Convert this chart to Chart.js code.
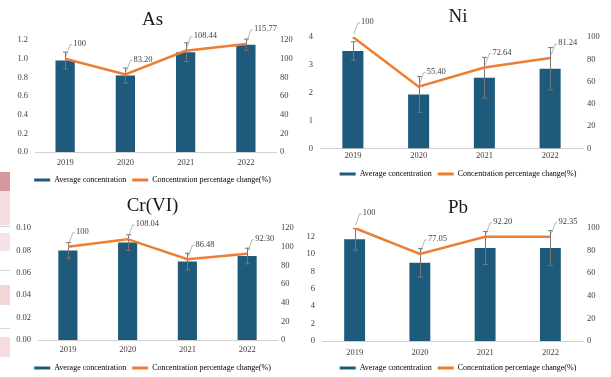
<!DOCTYPE html>
<html>
<head>
<meta charset="utf-8">
<script src="https://cdn.jsdelivr.net/npm/chart.js@4.4.0/dist/chart.umd.min.js"></script>
<style>
  html, body { margin: 0; padding: 0; background: #fff; }
  #wrap { position: relative; width: 611px; height: 377px; overflow: hidden; background: #fff; }
  #wrap canvas { position: absolute; }
  .edge { position: absolute; left: 0; width: 10px; }
</style>
</head>
<body>
<div id="wrap">
  <!-- bits of the neighbouring page visible at the left edge -->
  <div class="edge" style="top:172px;height:19px;background:#d8979d"></div>
  <div class="edge" style="top:191px;height:34px;background:#f4dde0"></div>
  <div class="edge" style="top:226px;height:1px;background:#cfcfcf"></div>
  <div class="edge" style="top:233px;height:18px;background:#f6e2e4"></div>
  <div class="edge" style="top:270px;height:1px;background:#d6d6d6"></div>
  <div class="edge" style="top:285px;height:20px;background:#f2d6d9"></div>
  <div class="edge" style="top:328px;height:1px;background:#d6d6d6"></div>
  <div class="edge" style="top:337px;height:20px;background:#f4dcdf"></div>

  <canvas id="cAs" width="305" height="190" style="left:0;top:0;width:305px;height:190px"></canvas>
  <canvas id="cNi" width="306" height="190" style="left:305px;top:0;width:306px;height:190px"></canvas>
  <canvas id="cCr" width="305" height="187" style="left:0;top:190px;width:305px;height:187px"></canvas>
  <canvas id="cPb" width="306" height="187" style="left:305px;top:190px;width:306px;height:187px"></canvas>
</div>

<script>
// ── data ──────────────────────────────────────────────
const years = ['2019', '2020', '2021', '2022'];

const asMean = [0.98, 0.82, 1.07, 1.15];
const asErr  = [0.09, 0.08, 0.10, 0.06];
const asPct  = [100, 83.20, 108.44, 115.77];

const niMean = [3.50, 1.94, 2.54, 2.86];
const niErr  = [0.33, 0.64, 0.73, 0.76];
const niPct  = [100, 55.40, 72.64, 81.24];

const crMean = [0.080, 0.087, 0.070, 0.075];
const crErr  = [0.007, 0.007, 0.0075, 0.007];
const crPct  = [100, 108.04, 86.48, 92.30];

const pbMean = [11.7, 9.0, 10.7, 10.7];
const pbErr  = [1.25, 1.65, 1.9, 2.0];
const pbPct  = [100, 77.05, 92.20, 92.35];

const barLabel  = 'Average concentration';
const lineLabel = 'Concentration percentage change(%)';

// ── look ──────────────────────────────────────────────
const BAR_COLOR  = '#1d5a7b';
const LINE_COLOR = '#ed7d31';
const TEXT_COLOR = '#404040';
const FONT = 'Liberation Serif';

Chart.defaults.font.family = FONT;
Chart.defaults.color = TEXT_COLOR;

// error bars, drawn right after the bars (so the line sits on top)
const errorBars = {
  id: 'errorBars',
  afterDatasetDraw(chart, args) {
    if (args.index !== 0) return;
    const ds = chart.data.datasets[0];
    const ys = chart.scales.y;
    const ctx = chart.ctx;
    ctx.save();
    ctx.strokeStyle = '#767676';
    ctx.lineWidth = 1;
    args.meta.data.forEach((bar, i) => {
      const v = ds.data[i];
      const top = ys.getPixelForValue(v + ds.errors[i]);
      const bot = ys.getPixelForValue(v - ds.errors[i]);
      const x = Math.round(bar.x) + 0.5;
      ctx.beginPath();
      ctx.moveTo(x, top); ctx.lineTo(x, bot);
      ctx.moveTo(x - 2.5, top); ctx.lineTo(x + 2.5, top);
      ctx.moveTo(x - 2.5, bot); ctx.lineTo(x + 2.5, bot);
      ctx.stroke();
    });
    ctx.restore();
  }
};

// percentage labels with a short leader line (Excel style)
const pctLabels = {
  id: 'pctLabels',
  afterDatasetsDraw(chart) {
    const ds = chart.data.datasets[1];
    const meta = chart.getDatasetMeta(1);
    const ctx = chart.ctx;
    ctx.save();
    ctx.font = '8.5px "' + FONT + '"';
    ctx.fillStyle = TEXT_COLOR;
    ctx.strokeStyle = '#a6a6a6';
    ctx.lineWidth = 0.8;
    ctx.textBaseline = 'middle';
    meta.data.forEach((pt, i) => {
      const v = ds.data[i];
      const txt = v === 100 ? '100' : v.toFixed(2);
      ctx.beginPath();
      ctx.moveTo(pt.x + 1, pt.y - 3);
      ctx.lineTo(pt.x + 5, pt.y - 14);
      ctx.lineTo(pt.x + 7, pt.y - 14);
      ctx.stroke();
      ctx.fillText(txt, pt.x + 8, pt.y - 15);
    });
    ctx.restore();
  }
};

function makePanel(id, title, mean, err, pct, axis, lay) {
  const tickFont = { family: FONT, size: 8.5 };
  return new Chart(document.getElementById(id), {
    type: 'bar',
    data: {
      labels: years,
      datasets: [
        {
          type: 'bar',
          label: barLabel,
          data: mean,
          errors: err,
          backgroundColor: BAR_COLOR,
          categoryPercentage: 1,
          barPercentage: 0.32,
          yAxisID: 'y',
          order: 1
        },
        {
          type: 'line',
          label: lineLabel,
          data: pct,
          borderColor: LINE_COLOR,
          backgroundColor: LINE_COLOR,
          borderWidth: 2.5,
          pointRadius: 0,
          tension: 0,
          yAxisID: 'y1',
          order: 0
        }
      ]
    },
    options: {
      responsive: false,
      animation: false,
      layout: { padding: { top: 0, left: 0, right: 0, bottom: lay.padBottom } },
      plugins: {
        title: {
          display: true,
          text: title,
          color: '#1a1a1a',
          font: { family: FONT, size: 19, weight: 'normal' },
          padding: { top: lay.titleTop, bottom: lay.titleBottom }
        },
        legend: {
          position: 'bottom',
          labels: {
            boxWidth: 16,
            boxHeight: 3,
            padding: 6,
            color: TEXT_COLOR,
            font: { family: FONT, size: 8 },
            generateLabels: (chart) => chart.data.datasets.map((d, i) => ({
              text: d.label,
              fillStyle: i === 0 ? BAR_COLOR : LINE_COLOR,
              strokeStyle: i === 0 ? BAR_COLOR : LINE_COLOR,
              lineWidth: 0,
              hidden: false,
              datasetIndex: i
            }))
          }
        },
        tooltip: { enabled: false }
      },
      scales: {
        x: {
          grid: { display: false, drawTicks: false },
          border: { display: true, color: '#d0d0d0' },
          ticks: { padding: lay.xPad, font: tickFont, color: TEXT_COLOR },
          afterFit: (s) => { s.height = lay.xH; }
        },
        y: {
          position: 'left',
          min: 0,
          max: axis.max,
          grid: { display: false, drawTicks: false },
          border: { display: false },
          ticks: {
            padding: 7,
            font: tickFont,
            color: TEXT_COLOR,
            callback: (v) => v.toFixed(axis.dec)
          },
          // labels every `step` up to labelMax (Pb's axis runs past its last label)
          afterBuildTicks: (s) => {
            const n = Math.round(axis.labelMax / axis.step);
            s.ticks = Array.from({ length: n + 1 }, (_, k) => ({ value: +(k * axis.step).toFixed(6) }));
          },
          afterFit: (s) => { s.width = lay.left; }
        },
        y1: {
          position: 'right',
          min: 0,
          max: axis.max1,
          grid: { display: false, drawTicks: false },
          border: { display: false },
          ticks: { stepSize: 20, padding: 4, font: tickFont, color: TEXT_COLOR },
          afterFit: (s) => { s.width = lay.right; }
        }
      }
    },
    plugins: [errorBars, pctLabels]
  });
}

makePanel('cAs', 'As', asMean, asErr, asPct,
  { max: 1.2, step: 0.2, dec: 1, labelMax: 1.2, max1: 120 },
  { left: 35, right: 29, titleTop: 8.6, titleBottom: 8.6, xPad: 6, xH: 18, padBottom: -4 });

makePanel('cNi', 'Ni', niMean, niErr, niPct,
  { max: 4, step: 1, dec: 0, labelMax: 4, max1: 100 },
  { left: 15, right: 28, titleTop: 5.6, titleBottom: 8.6, xPad: 2, xH: 15.5, padBottom: 2 });

makePanel('cCr', 'Cr(VI)', crMean, crErr, crPct,
  { max: 0.10, step: 0.02, dec: 2, labelMax: 0.10, max1: 120 },
  { left: 38, right: 28, titleTop: 5, titleBottom: 10.2, xPad: 5, xH: 18, padBottom: -5 });

makePanel('cPb', 'Pb', pbMean, pbErr, pbPct,
  { max: 13, step: 2, dec: 0, labelMax: 12, max1: 100 },
  { left: 17, right: 28, titleTop: 6.6, titleBottom: 8.6, xPad: 7, xH: 17, padBottom: -5 });
</script>
</body>
</html>
